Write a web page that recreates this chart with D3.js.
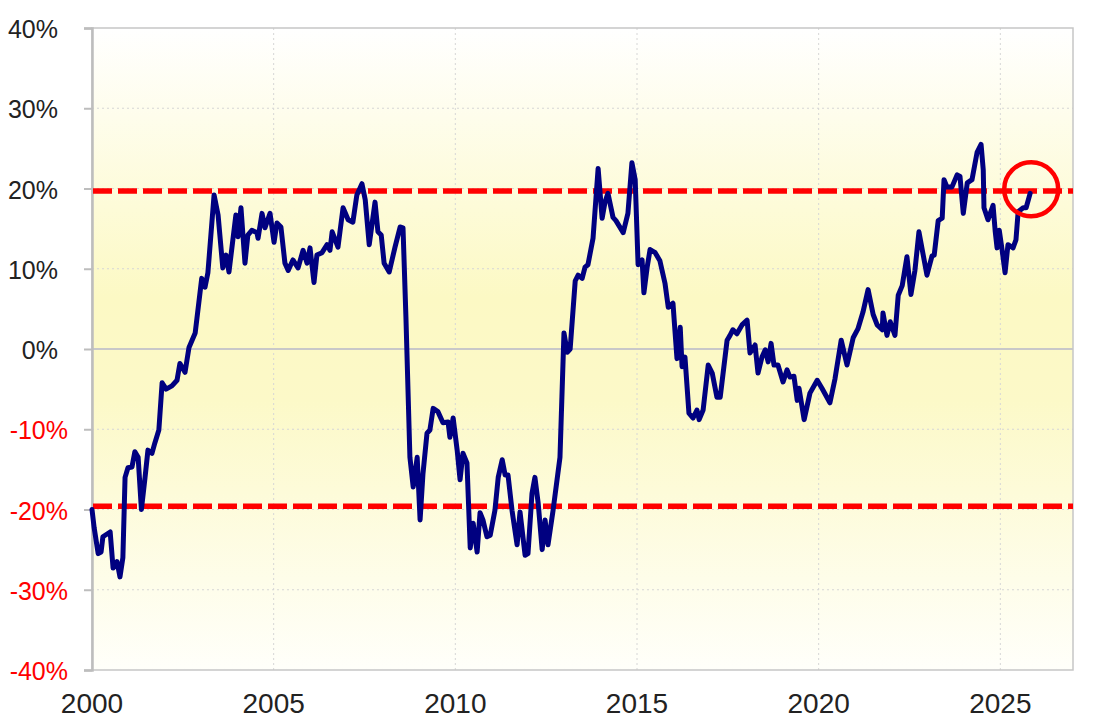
<!DOCTYPE html>
<html>
<head>
<meta charset="utf-8">
<script src="https://cdn.jsdelivr.net/npm/d3@7"></script>
<style>
  html, body { margin: 0; padding: 0; background: #ffffff; }
  svg { display: block; }
</style>
</head>
<body>
<svg id="chart" width="1093" height="718"></svg>
<script>
// ---- data (decimal year, % value) ----
const years = [
  2000.00, 2000.06, 2000.17, 2000.25, 2000.30, 2000.50, 2000.58, 2000.69, 2000.77, 2000.85,
  2000.91, 2000.99, 2001.10, 2001.18, 2001.27, 2001.36, 2001.46, 2001.54, 2001.65, 2001.73,
  2001.84, 2001.93, 2002.04, 2002.20, 2002.34, 2002.42, 2002.56, 2002.67, 2002.84, 2003.02,
  2003.11, 2003.19, 2003.36, 2003.47, 2003.60, 2003.69, 2003.77, 2003.96, 2004.02, 2004.10,
  2004.21, 2004.29, 2004.40, 2004.54, 2004.57, 2004.68, 2004.76, 2004.90, 2005.01, 2005.09,
  2005.20, 2005.31, 2005.40, 2005.53, 2005.67, 2005.81, 2005.92, 2006.00, 2006.11, 2006.19,
  2006.33, 2006.47, 2006.55, 2006.61, 2006.77, 2006.91, 2007.05, 2007.18, 2007.29, 2007.43,
  2007.52, 2007.63, 2007.79, 2007.87, 2007.96, 2008.04, 2008.18, 2008.34, 2008.48, 2008.56,
  2008.64, 2008.75, 2008.84, 2008.95, 2009.03, 2009.11, 2009.22, 2009.30, 2009.39, 2009.52,
  2009.66, 2009.80, 2009.85, 2009.94, 2010.05, 2010.13, 2010.21, 2010.32, 2010.41, 2010.49,
  2010.60, 2010.68, 2010.76, 2010.87, 2010.96, 2011.09, 2011.18, 2011.29, 2011.37, 2011.45,
  2011.56, 2011.70, 2011.78, 2011.92, 2012.00, 2012.11, 2012.19, 2012.28, 2012.39, 2012.47,
  2012.55, 2012.69, 2012.88, 2012.99, 2013.08, 2013.16, 2013.30, 2013.38, 2013.49, 2013.57,
  2013.65, 2013.79, 2013.93, 2014.04, 2014.12, 2014.20, 2014.34, 2014.42, 2014.62, 2014.75,
  2014.86, 2014.95, 2015.03, 2015.14, 2015.19, 2015.28, 2015.36, 2015.50, 2015.63, 2015.77,
  2015.86, 2015.99, 2016.10, 2016.19, 2016.24, 2016.32, 2016.43, 2016.54, 2016.65, 2016.71,
  2016.82, 2016.96, 2017.07, 2017.20, 2017.29, 2017.48, 2017.56, 2017.64, 2017.75, 2017.89,
  2018.03, 2018.11, 2018.25, 2018.33, 2018.44, 2018.53, 2018.61, 2018.69, 2018.77, 2018.88,
  2019.02, 2019.13, 2019.21, 2019.32, 2019.41, 2019.46, 2019.60, 2019.76, 2019.96, 2020.09,
  2020.31, 2020.45, 2020.62, 2020.78, 2020.95, 2021.08, 2021.22, 2021.36, 2021.50, 2021.61,
  2021.75, 2021.77, 2021.88, 2021.97, 2022.10, 2022.19, 2022.30, 2022.43, 2022.54, 2022.65,
  2022.76, 2022.98, 2023.12, 2023.18, 2023.29, 2023.40, 2023.45, 2023.53, 2023.67, 2023.81,
  2023.89, 2023.98, 2024.09, 2024.22, 2024.36, 2024.47, 2024.53, 2024.55, 2024.66, 2024.80,
  2024.86, 2024.91, 2024.97, 2025.05, 2025.13, 2025.21, 2025.35, 2025.43, 2025.49, 2025.63,
  2025.71, 2025.82
];
const values = [
  -20.0, -22.3, -25.5, -25.3, -23.4, -22.8, -27.3, -26.5, -28.4, -26.0,
  -16.0, -14.8, -14.7, -12.8, -13.5, -20.0, -16.0, -12.6, -13.0, -11.7,
  -10.1, -4.2, -5.0, -4.6, -3.9, -1.8, -2.9, 0.2, 2.0, 8.8,
  7.7, 9.5, 19.2, 16.7, 10.1, 11.7, 9.6, 16.7, 14.0, 17.6,
  10.7, 14.2, 14.8, 14.5, 13.8, 16.9, 15.1, 16.9, 13.3, 15.7,
  15.2, 10.7, 9.8, 11.1, 10.1, 12.3, 10.7, 12.6, 8.3, 11.7,
  12.0, 13.0, 12.3, 14.6, 12.7, 17.6, 16.1, 15.8, 19.2, 20.6,
  18.6, 13.0, 18.3, 14.6, 14.2, 10.7, 9.6, 12.7, 15.2, 15.1,
  4.0, -13.5, -17.2, -13.5, -21.3, -15.5, -10.5, -10.1, -7.4, -7.8,
  -9.2, -9.1, -11.0, -8.6, -12.6, -16.3, -13.0, -14.2, -24.8, -21.7,
  -25.3, -20.4, -21.3, -23.4, -23.2, -20.1, -16.0, -13.8, -15.7, -15.7,
  -20.1, -24.4, -20.3, -25.7, -25.5, -18.0, -16.0, -19.2, -25.0, -21.3,
  -24.4, -20.1, -13.5, 2.0, -0.4, 0.0, 8.5, 9.2, 8.8, 10.2,
  10.5, 13.8, 22.5, 16.3, 18.3, 19.4, 16.4, 16.0, 14.5, 16.9,
  23.2, 21.1, 10.5, 11.1, 7.0, 10.2, 12.4, 12.0, 11.0, 8.2,
  5.2, 5.7, -1.2, 2.7, -2.2, -1.0, -8.0, -8.6, -7.6, -8.8,
  -7.6, -2.0, -3.0, -6.0, -6.0, 1.1, 1.7, 2.4, 1.9, 3.0,
  3.6, -0.5, 0.5, -3.0, -1.0, -0.1, -1.6, 0.7, -2.0, -2.0,
  -4.1, -2.6, -3.5, -3.4, -6.4, -4.9, -8.8, -5.5, -3.9, -4.9,
  -6.7, -3.7, 1.1, -2.0, 1.4, 2.5, 4.6, 7.4, 4.3, 3.0,
  2.4, 4.5, 1.7, 3.4, 1.7, 6.7, 7.9, 11.5, 6.8, 9.8,
  14.6, 9.2, 11.6, 11.7, 16.0, 16.3, 21.1, 20.2, 20.2, 21.7,
  21.5, 16.9, 20.7, 21.1, 24.5, 25.5, 22.3, 17.6, 16.1, 17.9,
  14.6, 12.6, 14.8, 12.3, 9.5, 13.0, 12.6, 13.6, 17.1, 17.6,
  17.6, 19.4
];
const yTicks = [40, 30, 20, 10, 0, -10, -20, -30, -40];
const xTicks = [2000, 2005, 2010, 2015, 2020, 2025];
const bandLevels = [19.7, -19.6];
const highlight = { year: 2025.85, value: 19.9 };

// ---- layout ----
const svg = d3.select("#chart");
const mLeft = 92, mRight = 1073, mTop = 28, mBottom = 670;
const x = d3.scaleLinear().domain([2000, 2027]).range([mLeft, mRight]);
const y = d3.scaleLinear().domain([-40, 40]).range([mBottom, mTop]);

// background gradient
const defs = svg.append("defs");
const grad = defs.append("linearGradient").attr("id", "bg")
  .attr("x1", 0).attr("y1", 0).attr("x2", 0).attr("y2", 1);
grad.append("stop").attr("offset", "0%").attr("stop-color", "#ffffff");
grad.append("stop").attr("offset", "42%").attr("stop-color", "#fcf9c4");
grad.append("stop").attr("offset", "58%").attr("stop-color", "#fcf9c8");
grad.append("stop").attr("offset", "100%").attr("stop-color", "#fffffa");

svg.append("rect").attr("x", mLeft).attr("y", mTop)
  .attr("width", mRight - mLeft).attr("height", mBottom - mTop)
  .attr("fill", "url(#bg)");

// gridlines
svg.append("g").selectAll("line").data(yTicks.filter(d => d !== 0 && d !== 40 && d !== -40))
  .join("line")
  .attr("x1", mLeft).attr("x2", mRight)
  .attr("y1", d => y(d)).attr("y2", d => y(d))
  .attr("stroke", "#d6d6d6").attr("stroke-width", 1).attr("stroke-dasharray", "2,3");
svg.append("g").selectAll("line").data(xTicks.filter(d => d !== 2000))
  .join("line")
  .attr("x1", d => x(d)).attr("x2", d => x(d))
  .attr("y1", mTop).attr("y2", mBottom)
  .attr("stroke", "#d6d6d6").attr("stroke-width", 1).attr("stroke-dasharray", "2,3");
svg.append("line").attr("x1", mLeft).attr("x2", mRight)
  .attr("y1", y(0)).attr("y2", y(0))
  .attr("stroke", "#c8c8c8").attr("stroke-width", 2);

// plot border
svg.append("rect").attr("x", mLeft).attr("y", mTop)
  .attr("width", mRight - mLeft).attr("height", mBottom - mTop)
  .attr("fill", "none").attr("stroke", "#c6c6c6").attr("stroke-width", 1.5);

// left axis
const yAxis = d3.axisLeft(y).tickValues(yTicks).tickSize(8).tickFormat("");
const gy = svg.append("g").attr("transform", `translate(${mLeft},0)`).call(yAxis);
gy.select(".domain").attr("stroke", "#bdbdbd").attr("stroke-width", 2.5);
gy.selectAll(".tick line").attr("stroke", "#bdbdbd").attr("stroke-width", 2);

// y labels
svg.append("g").selectAll("text").data(yTicks).join("text")
  .attr("x", d => d < 0 ? 68 : 58)
  .attr("y", d => y(d) + 10)
  .attr("text-anchor", "end")
  .attr("font-family", "'Liberation Sans', Arial, sans-serif")
  .attr("font-size", 25)
  .attr("fill", d => d < 0 ? "#ff0000" : "#222222")
  .text(d => (d < 0 ? "-" + Math.abs(d) : d) + "%");

// x labels
svg.append("g").selectAll("text").data(xTicks).join("text")
  .attr("x", d => x(d))
  .attr("y", 713)
  .attr("text-anchor", "middle")
  .attr("font-family", "'Liberation Sans', Arial, sans-serif")
  .attr("font-size", 28)
  .attr("fill", "#222222")
  .text(d => d);

// red dashed band lines
svg.append("g").selectAll("line").data(bandLevels).join("line")
  .attr("x1", mLeft + 1).attr("x2", mRight)
  .attr("y1", d => y(d)).attr("y2", d => y(d))
  .attr("stroke", "#ff0000").attr("stroke-width", 5.5)
  .attr("stroke-dasharray", "19,6");

// main line
const pts = years.map((yr, i) => [yr, values[i]]);
const line = d3.line().x(d => x(d[0])).y(d => y(d[1]));
svg.append("path").datum(pts)
  .attr("d", line)
  .attr("fill", "none")
  .attr("stroke", "#000080")
  .attr("stroke-width", 5)
  .attr("stroke-linejoin", "round")
  .attr("stroke-linecap", "round");

// highlight circle
svg.append("circle")
  .attr("cx", x(highlight.year)).attr("cy", y(highlight.value))
  .attr("r", 27)
  .attr("fill", "none").attr("stroke", "#ff0000").attr("stroke-width", 4.5);
</script>
</body>
</html>
